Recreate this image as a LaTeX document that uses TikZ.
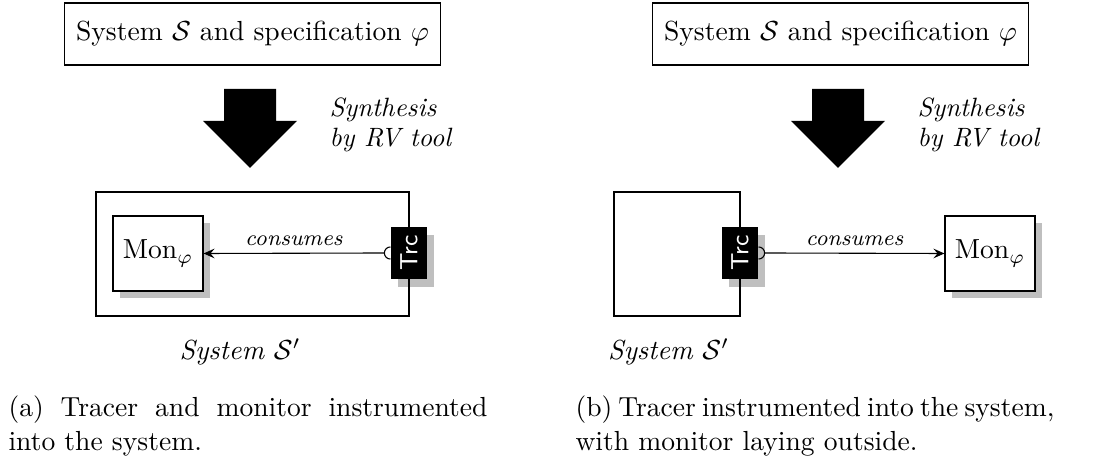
\documentclass[tikz,border=0pt]{standalone}
\usepackage{graphicx}
\usetikzlibrary{shadows,arrows.meta}
\begin{document}
\begin{tikzpicture}[x=0.3625pt, y=-0.3625pt,
  specbox/.style={draw, line width=0.4pt, minimum width=136.3pt, minimum height=22.5pt, inner sep=0pt},
  sysbox/.style={draw, line width=0.4pt, inner sep=0pt},
  monbox/.style={draw, fill=white, minimum width=32.6pt, minimum height=27.2pt, inner sep=0pt,
    general shadow={fill=black, opacity=0.25, shadow xshift=2.45pt, shadow yshift=-2.45pt}},
  trcbox/.style={fill=black, text=white, font=\sffamily\small,
    minimum width=13.05pt, minimum height=18.85pt, inner sep=0pt,
    general shadow={fill=black, opacity=0.25, shadow xshift=2.6pt, shadow yshift=-2.8pt}},
  synthlabel/.style={font=\fontsize{9.6}{11}\selectfont\itshape, align=left, anchor=north west, inner sep=0pt},
  edgelabel/.style={font=\footnotesize\itshape, above, inner sep=2.4pt},
  flow/.style={-{Stealth[length=4pt, width=3.5pt, inset=1.5pt]}, line width=0.4pt},
  socket/.style={line width=0.4pt},
  blockarrow/.style={fill=black, draw=none},
  captext/.style={anchor=base west, inner sep=0pt}
]
\useasboundingbox (0,0) rectangle (1093,464);

% ---------- (a) tracer and monitor inside the system ----------
\node[specbox] (specA) at (252.5,34) {System $\mathcal{S}$ and specification $\varphi$};
\path[blockarrow] (224,89) -- (276,89) -- (276,121) -- (297,121) -- (250,168)
  -- (203,121) -- (224,121) -- cycle;
\node[synthlabel] (synA) at (329,97) {Synthesis\\by RV tool};

\node[sysbox, minimum width=113.5pt, minimum height=44.95pt] (sysA) at (252.5,254) {};
\node[monbox] (monA) at (158,253.5) {$\mathrm{Mon}_\varphi$};
\node[trcbox] (trcA) at (409,253) {\rotatebox{90}{Trc}};
\coordinate (sockA) at ([xshift=-2.2pt]trcA.west);
\draw[socket] ([yshift=2.2pt]trcA.west) arc[start angle=90, end angle=270, radius=2.2pt];
\draw[flow] (sockA) -- node[edgelabel] {consumes} (monA.east);
\node[font=\itshape] (lblA) at (240,352) {System $\mathcal{S}'$};

\node[captext] (capA) at (8,417) {\parbox[t]{173.6pt}{(a) Tracer and monitor instrumented into the system.}};

% ---------- (b) tracer inside, monitor outside ----------
\node[specbox] (specB) at (840.5,34) {System $\mathcal{S}$ and specification $\varphi$};
\path[blockarrow] (812,89) -- (864,89) -- (864,121) -- (885,121) -- (838,168)
  -- (791,121) -- (812,121) -- cycle;
\node[synthlabel] (synB) at (917,97) {Synthesis\\by RV tool};

\node[sysbox, minimum width=45.7pt, minimum height=44.95pt] (sysB) at (677,254) {};
\node[trcbox] (trcB) at (740,253) {\rotatebox{90}{Trc}};
\node[monbox] (monB) at (990,253.5) {$\mathrm{Mon}_\varphi$};
\coordinate (sockB) at ([xshift=2.2pt]trcB.east);
\draw[socket] ([yshift=2.2pt]trcB.east) arc[start angle=90, end angle=-90, radius=2.2pt];
\draw[flow] (sockB) -- node[edgelabel] {consumes} (monB.west);
\node[font=\itshape] (lblB) at (668.5,352) {System $\mathcal{S}'$};

\node[captext] (capB) at (575,417) {\parbox[t]{173.6pt}{(b) Tracer instrumented into the system, with monitor laying outside.}};
\end{tikzpicture}
\end{document}
